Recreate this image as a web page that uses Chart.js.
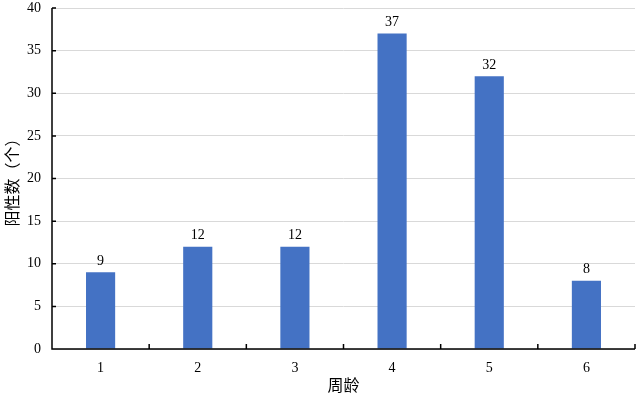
<!DOCTYPE html>
<html>
<head>
<meta charset="utf-8">
<script src="https://cdn.jsdelivr.net/npm/chart.js@4"></script>
<style>
html,body{margin:0;padding:0;background:#fff;}
#wrap{width:640px;height:396px;}
</style>
</head>
<body>
<div id="wrap"><canvas id="c"></canvas></div>
<script>
const weeks = ["1","2","3","4","5","6"];
const positives = [9,12,12,37,32,8];
const yTicks = [0,5,10,15,20,25,30,35,40];

const serif = "'Liberation Serif','Times New Roman',serif";
const cjk = "'Liberation Serif','Noto Sans CJK SC',serif";

// value labels above bars + inward tick marks
const extras = {
id:"extras",
afterDatasetsDraw(chart){
const ctx = chart.ctx;
const meta = chart.getDatasetMeta(0);
ctx.save();
ctx.fillStyle = "#000";
ctx.font = "14px " + serif;
ctx.textAlign = "center";
ctx.textBaseline = "bottom";
meta.data.forEach((bar,i)=>{
ctx.fillText(positives[i], bar.x, bar.y - 4);
});
const x = chart.scales.x, y = chart.scales.y;
ctx.strokeStyle = "#000";
ctx.lineWidth = 1.5;
ctx.beginPath();
// axis lines
ctx.moveTo(x.left, y.top);
ctx.lineTo(x.left, y.bottom);
ctx.lineTo(x.right, y.bottom);
// y ticks inward
yTicks.forEach(v=>{
const py = y.getPixelForValue(v);
ctx.moveTo(x.left, py);
ctx.lineTo(x.left + 4, py);
});
// x ticks between categories, inward
const w = (x.right - x.left) / weeks.length;
for(let i=1;i<=weeks.length;i++){
const px = x.left + w*i;
ctx.moveTo(px, y.bottom);
ctx.lineTo(px, y.bottom - 5);
}
ctx.stroke();
ctx.restore();
}
};

new Chart(
document.getElementById("c"),
{
type:"bar",
data:{
labels:weeks,
datasets:[{
label:"阳性数",
data:positives,
backgroundColor:"#4472C4",
barPercentage:0.3,
categoryPercentage:1
}]
},
options:{
responsive:true,
maintainAspectRatio:false,
animation:false,
layout:{padding:{top:8,right:5,left:0,bottom:0}},
plugins:{legend:{display:false},tooltip:{enabled:false}},
scales:{
x:{
grid:{display:false},
border:{display:false},
ticks:{color:"#000",font:{family:serif,size:14},padding:3},
title:{display:true,text:"周龄",color:"#000",font:{family:cjk,size:16},padding:{top:1,bottom:0}},
afterFit:s=>{s.height = 47;}
},
y:{
min:0,max:40,
grid:{color:"#d9d9d9",drawTicks:false,lineWidth:1},
border:{display:false},
ticks:{stepSize:5,color:"#000",font:{family:serif,size:14,lineHeight:1},padding:11},
title:{display:true,text:"阳性数（个）",color:"#000",font:{family:cjk,size:16},padding:{top:4,bottom:0}},
afterFit:s=>{s.width = 52; s.paddingTop = 0; s.paddingBottom = 0;}
}
}
},
plugins:[extras]
}
);
</script>
</body>
</html>
